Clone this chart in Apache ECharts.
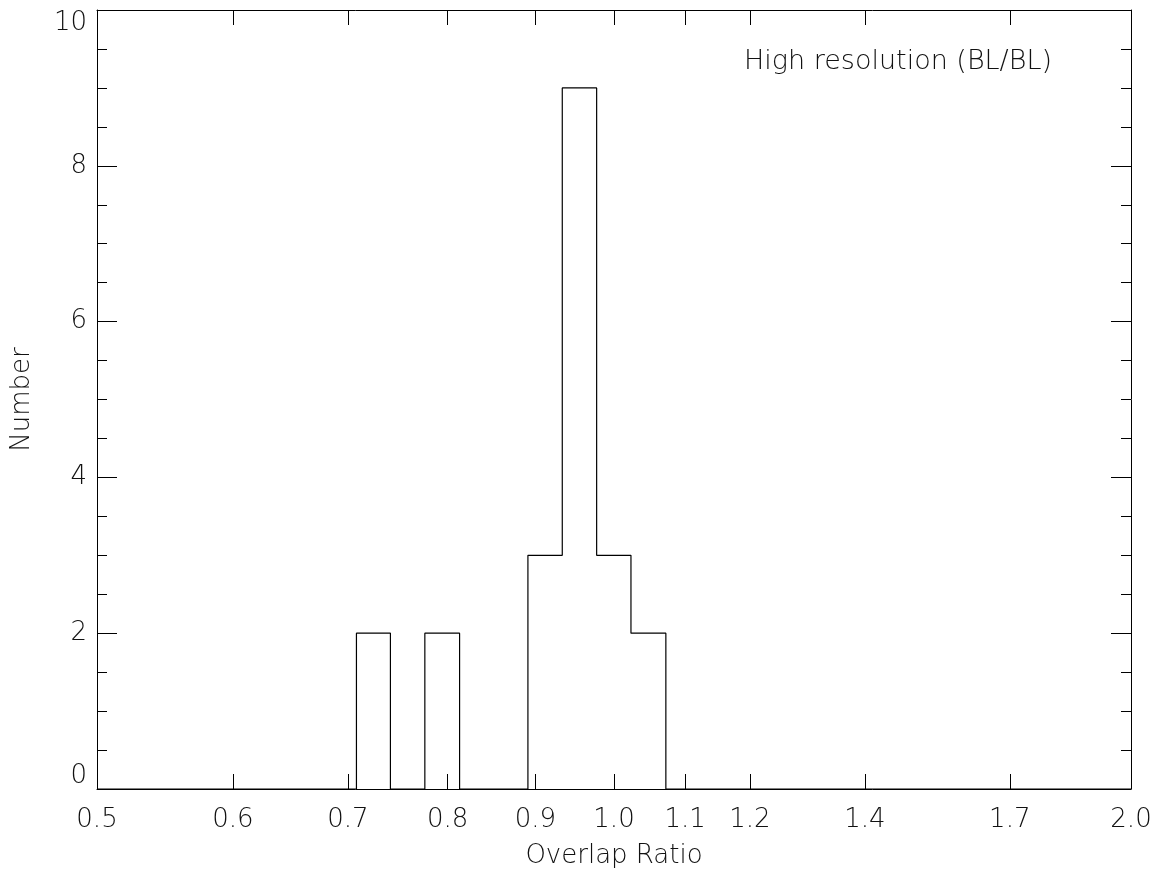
<!DOCTYPE html>
<html>
<head>
<meta charset="utf-8">
<script src="https://cdn.jsdelivr.net/npm/echarts@6/dist/echarts.min.js"></script>
<style>html,body{margin:0;padding:0;background:#fff}#chart{width:1164px;height:874px}</style>
</head>
<body>
<div id="chart"></div>
<script>
// Histogram bin edges (Overlap Ratio) and counts per bin
const binEdges = [0.708, 0.741, 0.776, 0.813, 0.851, 0.891, 0.933, 0.977, 1.023, 1.072];
const counts   = [2, 0, 2, 0, 0, 3, 9, 3, 2];
const xTickValues = [0.5, 0.6, 0.7, 0.8, 0.9, 1.0, 1.1, 1.2, 1.4, 1.7, 2.0];
const xMin = 0.5, xMax = 2.0;
const yMin = 0, yMax = 10, yInterval = 2;
const titleText = 'High resolution (BL/BL)';
const xName = 'Overlap Ratio';
const yName = 'Number';

// step outline points
const stepData = [[xMin, 0]];
for (let i = 0; i < counts.length; i++) stepData.push([binEdges[i], counts[i]]);
stepData.push([binEdges[binEdges.length - 1], 0]);
stepData.push([xMax, 0]);

const FONT = 'DejaVu Sans';
const FW = 200;
const TXT = '#111';
const chart = echarts.init(document.getElementById('chart'));
const xBase = {
  type: 'log', logBase: 10, min: xMin, max: xMax,
  axisLine: { show: true, onZero: false, lineStyle: { color: '#000', width: 1 } },
  axisTick: { show: true, inside: true, length: 15, customValues: xTickValues, lineStyle: { color: '#000' } },
  minorTick: { show: false },
  splitLine: { show: false }
};
const yBase = {
  type: 'value', min: yMin, max: yMax, interval: yInterval,
  axisLine: { show: true, lineStyle: { color: '#000', width: 1 } },
  axisTick: { show: true, inside: true, length: 20, lineStyle: { color: '#000' } },
  minorTick: { show: true, splitNumber: 4, length: 10, lineStyle: { color: '#000' } },
  splitLine: { show: false }
};
chart.setOption({
  animation: false,
  backgroundColor: '#fff',
  title: {
    text: titleText, left: 893, textAlign: 'center', top: 43,
    textStyle: { fontFamily: FONT, fontSize: 27, fontWeight: FW, color: TXT }
  },
  grid: { left: 97, right: 33, top: 10, bottom: 85, containLabel: false },
  xAxis: [
    Object.assign({}, xBase, {
      position: 'bottom',
      name: xName, nameLocation: 'middle', nameGap: 54,
      nameTextStyle: { fontFamily: FONT, fontSize: 26, fontWeight: FW, color: TXT },
      axisLabel: { show: true, margin: 18, customValues: xTickValues, fontFamily: FONT, fontSize: 26, fontWeight: FW, color: TXT,
        formatter: v => Number(v).toFixed(1) }
    }),
    Object.assign({}, xBase, { position: 'top', axisLabel: { show: false } })
  ],
  yAxis: [
    Object.assign({}, yBase, {
      position: 'left',
      name: yName, nameLocation: 'middle', nameGap: 62, nameRotate: 90,
      nameTextStyle: { fontFamily: FONT, fontSize: 26, fontWeight: FW, color: TXT },
      axisLabel: { show: true, margin: 10, fontFamily: FONT, fontSize: 26, fontWeight: FW, color: TXT,
        verticalAlignMinLabel: 'bottom', verticalAlignMaxLabel: 'top' }
    }),
    Object.assign({}, yBase, { position: 'right', axisLabel: { show: false } })
  ],
  series: [{
    type: 'line', step: 'end', xAxisIndex: 0, yAxisIndex: 0,
    data: stepData, symbol: 'none',
    lineStyle: { color: '#000', width: 1.2 }
  }]
});
</script>
</body>
</html>
